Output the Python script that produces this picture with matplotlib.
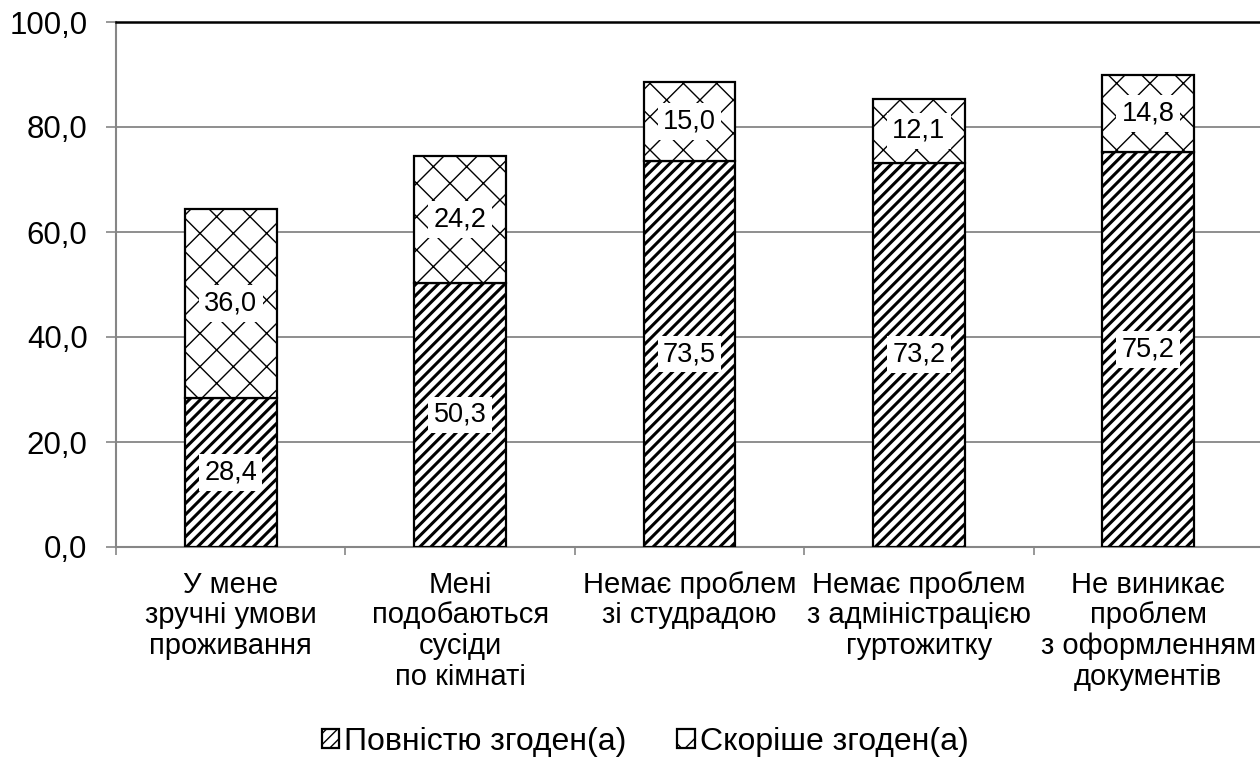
import matplotlib
matplotlib.use("Agg")
import matplotlib.pyplot as plt
import numpy as np

# Chart data
categories = [
    "У мене\nзручні умови\nпроживання",
    "Мені\nподобаються\nсусіди\nпо кімнаті",
    "Немає проблем\nзі студрадою",
    "Немає проблем\nз адміністрацією\nгуртожитку",
    "Не виникає\nпроблем\nз оформленням\nдокументів",
]
fully_agree = [28.4, 50.3, 73.5, 73.2, 75.2]
rather_agree = [36.0, 24.2, 15.0, 12.1, 14.8]
series_names = ["Повністю згоден(а)", "Скоріше згоден(а)"]
y_ticks = [0, 20, 40, 60, 80, 100]

plt.rcParams["font.family"] = ["Liberation Sans", "DejaVu Sans"]


def fmt(v):
    return f"{v:.1f}".replace(".", ",")


fig = plt.figure(figsize=(12.6, 7.62), dpi=100)
ax = fig.add_axes([116 / 1260, 1 - 547 / 762, 1147 / 1260, 525 / 762])

x = np.arange(len(categories))
width = 0.4

with plt.rc_context({"hatch.linewidth": 2.2}):
    b1 = ax.bar(x, fully_agree, width, color="white", edgecolor="black",
                hatch="///", linewidth=1.6, label=series_names[0], zorder=3)
with plt.rc_context({"hatch.linewidth": 1.0}):
    b2 = ax.bar(x, rather_agree, width, bottom=fully_agree, color="white",
                edgecolor="black", hatch="x", linewidth=1.6,
                label=series_names[1], zorder=3)

box = dict(boxstyle="square,pad=0.2", facecolor="white", edgecolor="none")
for xi, lo, hi in zip(x, fully_agree, rather_agree):
    ax.text(xi, lo / 2, fmt(lo), ha="center", va="center", fontsize=19.5,
            bbox=box, zorder=4)
    ax.text(xi, lo + hi / 2, fmt(hi), ha="center", va="center", fontsize=19.5,
            bbox=box, zorder=4)

ax.set_ylim(0, 100)
ax.set_xlim(-0.5, len(categories) - 0.5)
ax.set_yticks(y_ticks)
ax.set_yticklabels([fmt(v) for v in y_ticks], fontsize=22.5)
ax.tick_params(axis="y", length=7.5, width=1.2, color="#868686", pad=13)

ax.set_xticks(x)
ax.set_xticklabels(categories, fontsize=21, linespacing=1.13)
ax.tick_params(axis="x", which="major", length=0, pad=17)
ax.set_xticks(np.arange(-0.5, len(categories)), minor=True)
ax.tick_params(axis="x", which="minor", length=5.5, width=1.2, color="#868686")

ax.grid(axis="y", color="#868686", linewidth=1.3, zorder=0)
ax.set_axisbelow(True)
for side in ("left", "bottom"):
    ax.spines[side].set_color("#868686")
    ax.spines[side].set_linewidth(1.5)
ax.spines["right"].set_visible(False)
ax.spines["top"].set_color("black")
ax.spines["top"].set_linewidth(1.8)

fig.legend(handles=[b1, b2], labels=series_names, loc="center",
           bbox_to_anchor=(645 / 1260, 1 - 742 / 762), ncol=2, frameon=False,
           fontsize=23, handlelength=0.55, handleheight=0.55, handletextpad=0.15,
           columnspacing=1.6, borderpad=0.1)

fig.savefig("out.png", dpi=100)
